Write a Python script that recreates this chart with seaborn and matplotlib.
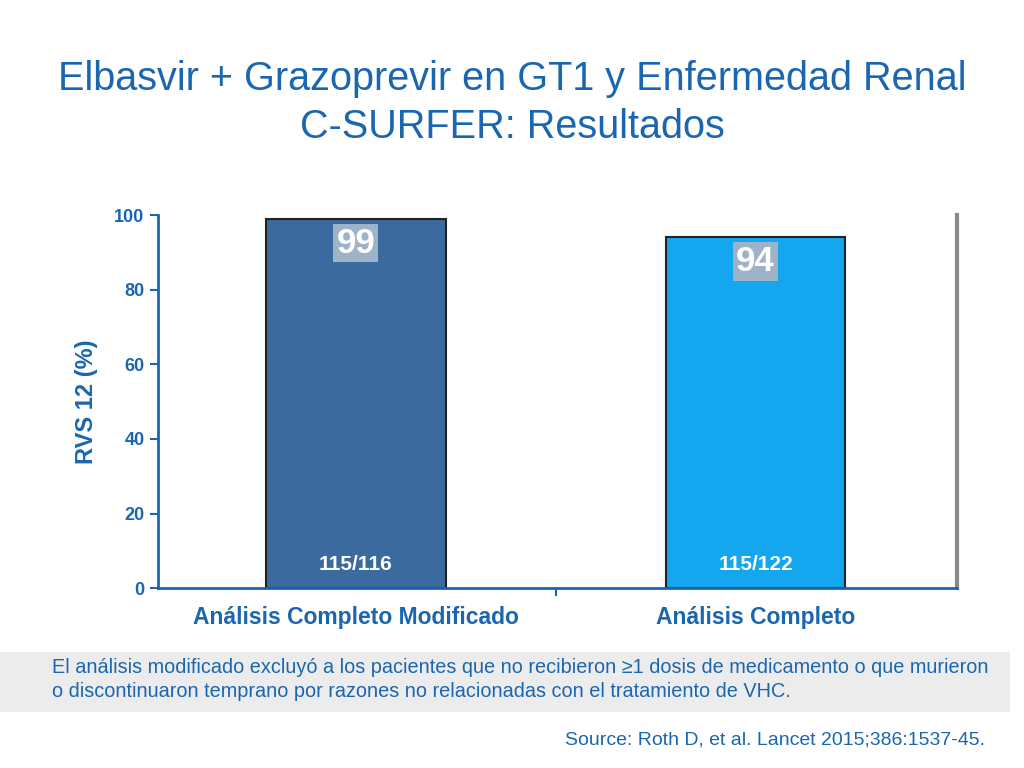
import matplotlib
matplotlib.use("Agg")
import matplotlib.pyplot as plt
import seaborn as sns
import pandas as pd
from matplotlib.patches import Rectangle

categories = ["Análisis Completo Modificado", "Análisis Completo"]
values = [99, 94]
counts = ["115/116", "115/122"]
colors = ["#3a6a9e", "#14a6ee"]
yticks = [0, 20, 40, 60, 80, 100]

blue = "#1a66b0"
df = pd.DataFrame({"cat": categories, "val": values})

fig = plt.figure(figsize=(10.24, 7.68), dpi=100)
ax = fig.add_axes([0.154, 0.234, 0.781, 0.486])
sns.barplot(data=df, x="cat", y="val", hue="cat", palette=colors, width=0.45,
            edgecolor="#222222", linewidth=1.5, legend=False, ax=ax, saturation=1)
ax.set_xlim(-0.495, 1.505)
ax.set_ylim(0, 100)
ax.set_yticks(yticks)
ax.set_yticklabels([str(t) for t in yticks], color=blue, fontsize=13, fontweight="bold", fontfamily="Liberation Sans")
ax.set_xticks([0, 1])
ax.set_xticklabels(categories, color=blue, fontsize=16.5, fontweight="bold", fontfamily="Liberation Sans")
ax.set_xlabel("")
ax.set_ylabel("RVS 12 (%)", color=blue, fontsize=17, fontweight="bold", fontfamily="Liberation Sans", labelpad=12)
ax.spines["top"].set_visible(False)
ax.spines["right"].set_color("#888888")
ax.spines["right"].set_linewidth(3)
ax.spines["left"].set_color(blue)
ax.spines["bottom"].set_color(blue)
ax.spines["left"].set_linewidth(2)
ax.spines["bottom"].set_linewidth(2)
ax.tick_params(axis="both", colors=blue, width=1.5, length=6)
ax.set_xticks([0.5], minor=True)
ax.tick_params(axis="x", which="minor", colors=blue, length=6, width=1.5)
ax.tick_params(axis="x", which="major", length=0, pad=13)

for i, (v, c) in enumerate(zip(values, counts)):
    ax.text(i, v - 6.5, str(v), ha="center", va="center", color="white", fontsize=25,
            fontweight="bold", fontfamily="Liberation Sans",
            bbox=dict(facecolor="#9fb3c8", edgecolor="none", pad=2))
    ax.text(i, 6.5, c, ha="center", va="center", color="white", fontsize=15,
            fontweight="bold", fontfamily="Liberation Sans")

fig.text(0.5, 0.897, "Elbasvir + Grazoprevir en GT1 y Enfermedad Renal", ha="center", va="center",
         color=blue, fontsize=28.5, fontfamily="Liberation Sans")
fig.text(0.5, 0.835, "C-SURFER: Resultados", ha="center", va="center",
         color=blue, fontsize=28.5, fontfamily="Liberation Sans")

fig.patches.append(Rectangle((0, 1 - 712/768), 1010/1024, 60/768, transform=fig.transFigure,
                             facecolor="#ececec", edgecolor="none", zorder=0))
fig.text(0.051, 0.115, "El análisis modificado excluyó a los pacientes que no recibieron ≥1 dosis de medicamento o que murieron\no discontinuaron temprano por razones no relacionadas con el tratamiento de VHC.",
         ha="left", va="center", color=blue, fontsize=14.3, fontfamily="Liberation Sans", linespacing=1.3)
fig.text(0.962, 0.037, "Source: Roth D, et al. Lancet 2015;386:1537-45.", ha="right", va="center",
         color=blue, fontsize=14, fontfamily="Liberation Sans")
fig.savefig("out.png", dpi=100)
